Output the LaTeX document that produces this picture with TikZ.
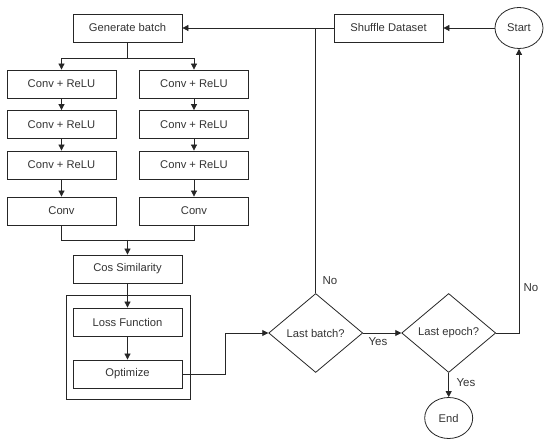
\documentclass[tikz,border=0pt]{standalone}
\usepackage{fontspec}
\setmainfont{Liberation Sans}
\usetikzlibrary{shapes.geometric,arrows.meta}
\definecolor{ink}{HTML}{262626}
\definecolor{txt}{HTML}{333333}
\tikzset{
  box/.style={draw=ink, line width=0.8pt, minimum width=109pt, minimum height=28pt, inner sep=0pt, font=\fontsize{11.2}{13}\selectfont, text=txt},
  dia/.style={draw=ink, line width=0.8pt, diamond, minimum width=94pt, minimum height=79pt, inner sep=0pt, font=\fontsize{11.2}{13}\selectfont, text=txt},
  ell/.style={draw=ink, line width=0.8pt, ellipse, minimum width=48pt, minimum height=41pt, inner sep=0pt, font=\fontsize{11.2}{13}\selectfont, text=txt},
  conn/.style={draw=ink, line width=0.8pt},
  arr/.style={conn, -{Triangle[length=6pt,width=6pt]}},
  lbl/.style={font=\fontsize{11.5}{13}\selectfont, text=txt, inner sep=0pt}
}
\begin{document}
\begin{tikzpicture}[x=1pt,y=-1pt]
\useasboundingbox (0,0) rectangle (550,446);
% outer container
\node[draw=ink, line width=0.8pt, minimum width=124pt, minimum height=104pt, inner sep=0pt] (grp) at (128,347) {};
\node[box] (gb) at (127.5,28) {Generate batch};
\node[box] (l1) at (61.5,84) {Conv + ReLU};
\node[box] (l2) at (61.5,124.5) {Conv + ReLU};
\node[box] (l3) at (61.5,165) {Conv + ReLU};
\node[box] (l4) at (61.5,211) {Conv};
\node[box] (r1) at (194,84) {Conv + ReLU};
\node[box] (r2) at (194,124.5) {Conv + ReLU};
\node[box] (r3) at (194,165) {Conv + ReLU};
\node[box] (r4) at (194,211) {Conv};
\node[box] (cs) at (127.5,269) {Cos Similarity};
\node[box] (lf) at (127.5,322) {Loss Function};
\node[box] (op) at (127.5,374) {Optimize};
\node[dia] (lb) at (315.7,333) {Last batch?};
\node[dia] (le) at (448.7,333) {Last epoch?};
\node[ell] (en) at (448.7,418) {End};
\node[box] (sd) at (388.5,28) {Shuffle Dataset};
\node[ell] (st) at (519,28) {Start};
\coordinate (split) at (127.5,58);
\coordinate (merge) at (127.5,240);
% connectors
\draw[conn] (gb.south) -- (split);
\draw[arr] (split) -| (l1.north);
\draw[arr] (split) -| (r1.north);
\draw[arr] (l1) -- (l2);
\draw[arr] (l2) -- (l3);
\draw[arr] (l3) -- (l4);
\draw[arr] (r1) -- (r2);
\draw[arr] (r2) -- (r3);
\draw[arr] (r3) -- (r4);
\draw[conn] (l4.south) |- (merge);
\draw[conn] (r4.south) |- (merge);
\draw[arr] (merge) -- (cs.north);
\draw[arr] (cs) -- (lf);
\draw[arr] (lf) -- (op);
\draw[arr] (op.east) -- ++(43,0) |- (lb.west);
\draw[arr] (sd.west) -- (gb.east);
\draw[conn] (lb.north) -- (lb.north |- sd.west);
\draw[arr] (st.west) -- (sd.east);
\draw[arr] (lb.east) -- (le.west);
\draw[arr] (le.east) -| (st.south);
\draw[arr] (le.south) -- (en.north);
% labels
\node[lbl] at (330,281) {No};
\node[lbl] at (378,342) {Yes};
\node[lbl] at (531,288) {No};
\node[lbl] at (466,383) {Yes};
\end{tikzpicture}
\end{document}
